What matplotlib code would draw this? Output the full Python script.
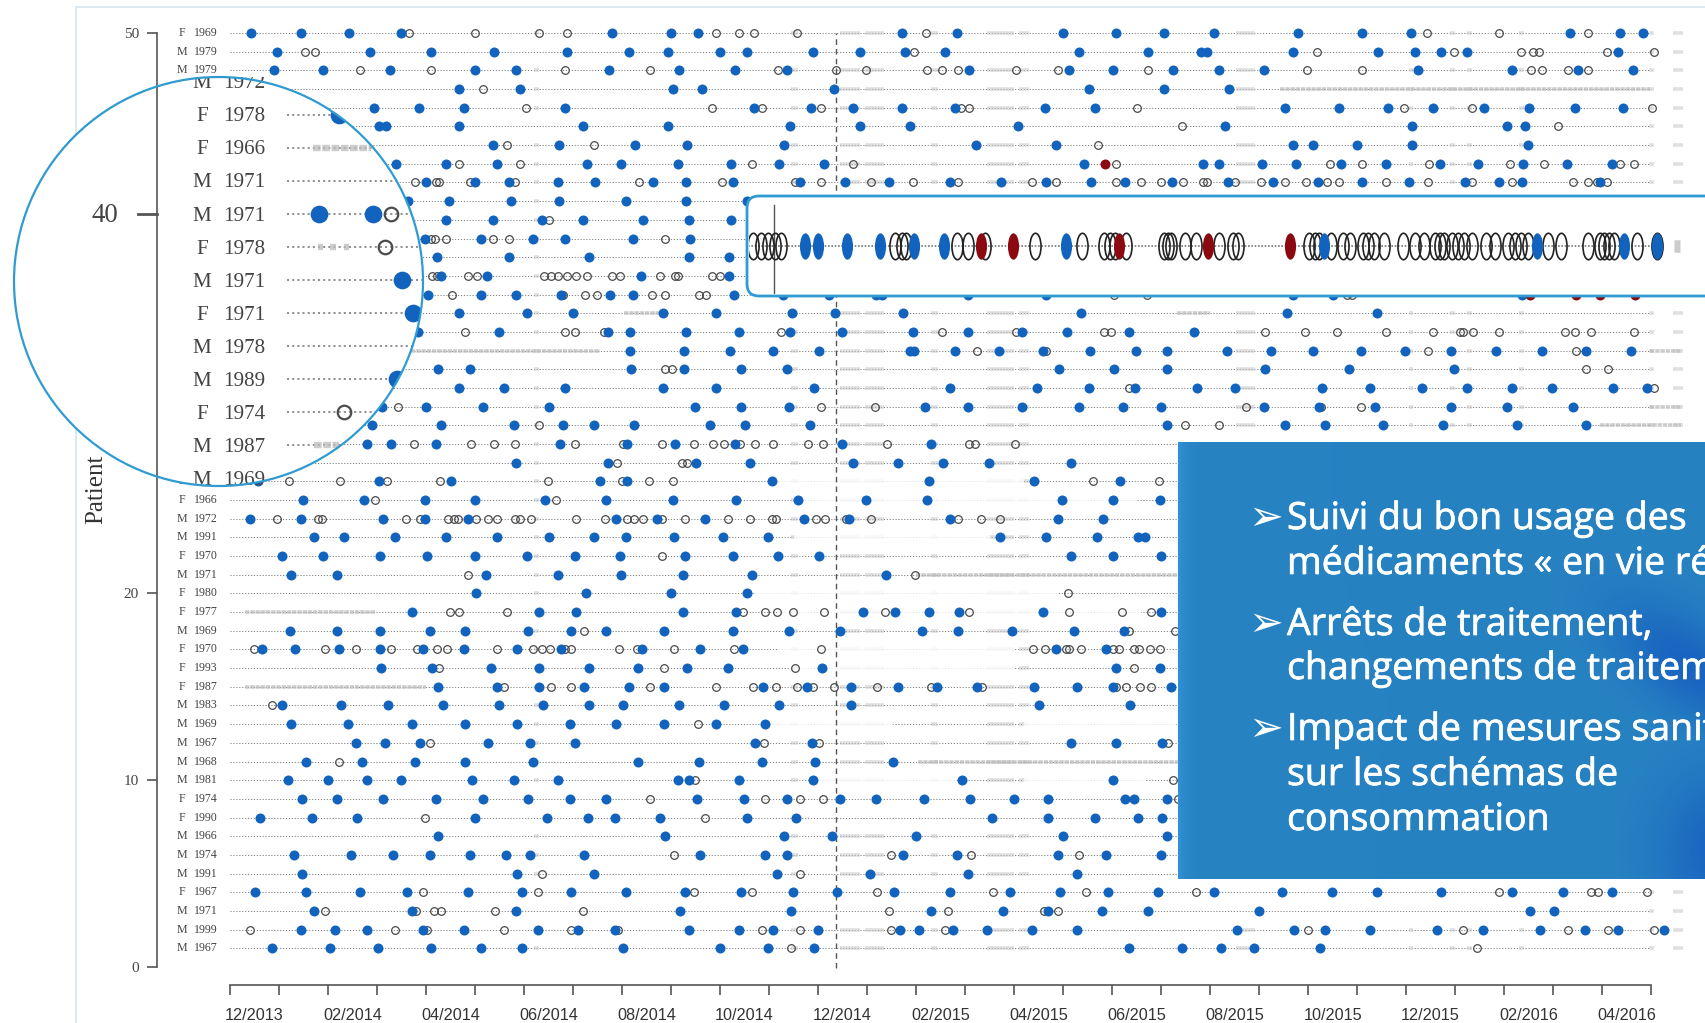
import numpy as np
import matplotlib
matplotlib.use("Agg")
import matplotlib.pyplot as plt
import matplotlib.patheffects as pe
from matplotlib.markers import MarkerStyle
from matplotlib.patches import Circle, FancyBboxPatch, Rectangle
from matplotlib.transforms import Affine2D

# x values are months since the start of 12/2013, y is the patient number
blue_50 = [0.43, 1.45, 2.43, 3.49, 7.80, 9.00, 9.56, 13.71, 14.83, 16.99, 18.08, 19.06, 20.08, 21.80, 23.10, 24.10, 27.35, 28.37, 28.83]
open_50 = [3.65, 5.0, 6.31, 6.87, 9.92, 10.39, 10.69, 11.57, 14.20, 24.43, 25.90, 27.71]
blue_49 = [0.96, 2.86, 4.10, 5.39, 6.87, 8.14, 8.94, 10.0, 10.55, 11.90, 12.86, 13.78, 14.59, 17.32, 18.73, 19.82, 19.94, 21.69, 23.43, 24.18, 24.71, 25.24, 28.33]
open_49 = [1.53, 1.73, 13.96, 22.18, 24.98, 26.35, 26.59, 26.71, 28.10, 29.05]
blue_48 = [0.90, 1.90, 3.27, 5.0, 5.84, 7.73, 9.16, 10.30, 11.37, 15.09, 17.12, 18.01, 19.24, 20.18, 21.10, 24.24, 26.16, 27.51, 28.63]
open_48 = [2.65, 4.10, 6.84, 8.57, 11.18, 12.36, 12.98, 14.22, 14.53, 14.86, 16.04, 16.90, 18.73, 21.98, 23.10, 26.55, 26.78, 27.31, 27.71]
blue_47 = [4.67, 5.92, 9.04, 9.63, 12.33, 17.53, 19.06, 20.39]
open_47 = [5.16]
blue_46 = [2.93, 3.85, 4.77, 6.84, 10.69, 11.86, 12.72, 13.71, 14.80, 16.63, 17.65, 21.53, 22.63, 23.63, 24.55, 25.59, 26.51, 27.45, 28.43]
open_46 = [6.04, 9.84, 10.86, 12.06, 14.92, 15.08, 18.51, 23.96, 25.35, 29.02]
blue_45 = [3.04, 3.18, 4.67, 7.20, 8.94, 11.43, 12.86, 13.88, 16.08, 20.31, 24.12, 26.06, 26.43]
open_45 = [19.43, 27.10]
blue_44 = [5.37, 6.71, 8.27, 9.33, 11.31, 15.22, 16.86, 21.69, 22.11, 23.0, 24.12, 26.49]
open_44 = [5.66, 7.43, 17.71]
blue_43 = [0.6, 3.39, 4.41, 5.45, 7.29, 7.98, 9.14, 10.22, 11.20, 12.12, 17.42, 19.85, 20.18, 21.06, 21.76, 22.67, 23.59, 24.69, 25.47, 26.39, 27.29, 28.20]
open_43 = [4.67, 5.92, 10.65, 12.72, 18.08, 22.45, 23.10, 24.47, 26.12, 26.82, 28.37, 28.65]
blue_42 = [4.0, 5.0, 5.69, 6.69, 7.45, 8.63, 9.31, 10.26, 11.63, 12.55, 13.45, 14.69, 15.73, 16.65, 17.58, 18.27, 19.22, 20.37, 21.29, 22.20, 23.10, 24.06, 25.20, 25.90, 26.37, 27.96]
open_42 = [3.78, 4.20, 4.27, 4.90, 5.82, 8.35, 10.03, 11.53, 12.06, 13.08, 13.94, 14.86, 16.37, 16.86, 18.08, 18.59, 19.0, 19.45, 19.85, 19.94, 20.51, 21.04, 21.53, 21.96, 22.39, 22.63, 23.59, 24.45, 25.35, 26.16, 27.41, 27.71, 27.90, 28.10]
blue_41 = [3.63, 4.47, 5.73, 6.71, 8.08, 9.31, 10.55]
open_41 = []
blue_40 = [0.37, 0.99, 4.41, 5.37, 6.37, 7.20, 8.43, 9.37, 10.22]
open_40 = [1.2, 6.51]
blue_39 = [3.98, 5.12, 6.18, 6.84, 8.22, 9.39]
open_39 = [1.13, 4.10, 4.18, 4.41, 5.37, 5.69, 8.88]
blue_38 = [1.33, 4.22, 5.69, 7.33, 9.37, 10.18]
open_38 = []
blue_37 = [1.45, 4.31, 5.24, 8.39, 10.18]
open_37 = [4.12, 4.22, 4.86, 5.04, 6.41, 6.55, 6.69, 6.88, 7.06, 7.29, 7.80, 7.96, 8.78, 9.08, 9.14, 9.84, 10.0]
blue_36 = [4.04, 5.12, 5.84, 6.76, 7.76, 8.22, 10.29, 11.29, 12.22, 13.18, 13.31, 15.06, 16.65, 21.69, 22.51, 26.37]
open_36 = [4.53, 6.80, 7.24, 7.49, 8.61, 8.88, 9.57, 9.71, 18.04, 18.71, 22.8, 22.9]
red_36 = [26.53, 27.47, 27.96, 28.67]
blue_35 = [1.27, 4.67, 6.06, 7.0, 8.84, 9.92, 11.47, 12.35, 13.73, 17.37, 21.57, 23.41]
open_35 = []
blue_34 = [3.84, 5.49, 7.71, 8.16, 9.31, 10.39, 11.43, 12.49, 13.94, 15.06, 16.16, 17.08, 18.35, 19.67]
open_34 = [0.66, 4.80, 6.84, 7.04, 7.63, 11.24, 14.53, 16.04, 17.84, 17.98, 21.12, 21.94, 22.59, 23.59, 24.55, 25.10, 25.16, 25.37, 25.90, 27.24, 27.45, 27.78, 28.65]
blue_33 = [8.16, 9.27, 10.20, 11.08, 12.02, 13.88, 13.96, 14.80, 15.70, 16.59, 17.55, 18.49, 19.12, 20.35, 21.24, 22.11, 23.08, 23.98, 24.92, 25.84, 26.78, 27.67, 28.59]
open_33 = [15.24, 16.65, 24.45, 27.47]
blue_32 = [4.24, 4.90, 8.18, 9.27, 10.43, 11.37, 16.92, 18.04, 19.12, 21.12, 22.84, 24.98]
open_32 = [8.88, 9.02, 27.67, 28.12]
blue_31 = [4.67, 5.59, 6.84, 8.84, 9.92, 11.92, 14.69, 16.47, 17.53, 18.47, 19.73, 20.51, 22.29, 23.27, 24.33, 25.24, 26.16, 26.98, 28.22, 28.92]
open_31 = [18.35, 29.06]
blue_30 = [3.10, 4.0, 5.16, 6.51, 9.49, 10.43, 11.41, 14.19, 15.06, 16.16, 17.32, 18.23, 19.0, 21.10, 22.22, 23.37, 24.92, 26.06, 27.41]
open_30 = [3.43, 12.06, 13.17, 20.73, 22.27, 23.08]
blue_29 = [2.90, 4.31, 5.80, 6.80, 7.43, 8.24, 9.80, 10.51, 11.84, 19.12, 21.53, 22.35, 23.53, 24.76, 26.27, 27.67]
open_29 = [6.31, 19.49, 20.18]
blue_28 = [2.80, 3.29, 4.20, 6.73, 8.10, 9.08, 10.31, 12.49, 14.31]
open_28 = [3.76, 4.92, 5.39, 5.82, 7.04, 8.02, 8.82, 9.47, 9.86, 10.08, 10.41, 10.71, 11.08, 11.80, 12.10, 13.41, 15.08, 15.20, 16.02]
blue_27 = [5.84, 7.71, 9.51, 10.61, 12.71, 13.64, 14.55, 15.49, 17.16]
open_27 = [7.89, 9.22, 9.33]
blue_26 = [0.57, 3.04, 4.51, 7.55, 8.10, 11.06, 14.27, 16.40, 18.16]
open_26 = [1.20, 2.24, 3.20, 4.29, 6.49, 8.0, 8.55, 9.04, 17.61, 18.96]
blue_25 = [1.49, 2.73, 3.98, 5.0, 6.43, 7.68, 9.04, 10.32, 11.59, 12.98, 14.22, 16.98, 18.02, 18.97]
open_25 = [2.96, 6.65]
blue_24 = [0.41, 1.45, 3.12, 3.98, 4.86, 7.88, 8.71, 9.69, 11.71, 12.63, 14.69, 16.90, 17.82]
open_24 = [0.96, 1.80, 1.87, 3.59, 3.88, 4.45, 4.57, 4.66, 5.02, 5.26, 5.45, 5.82, 5.92, 6.14, 7.06, 7.65, 8.11, 8.24, 8.43, 8.82, 9.29, 10.16, 10.61, 11.06, 11.14, 11.96, 12.14, 12.57, 13.08, 14.86, 15.33, 15.71]
blue_23 = [1.71, 2.33, 3.36, 4.41, 5.45, 6.51, 7.43, 8.08, 9.07, 10.06, 10.98, 15.71, 16.65, 17.69, 18.53, 18.67]
open_23 = []
blue_22 = [1.06, 1.90, 3.06, 4.02, 5.0, 6.06, 7.04, 7.96, 9.28, 10.27, 11.18, 12.02, 17.16, 18.02, 19.0]
open_22 = [8.82]
blue_21 = [1.24, 2.18, 5.22, 6.69, 7.98, 9.24, 10.65, 13.38]
open_21 = [4.86, 13.97]
blue_20 = [5.02, 7.26, 9.0, 10.55]
open_20 = [17.10]
blue_19 = [3.71, 6.31, 7.06, 9.24, 10.32, 12.91, 13.57, 14.27, 14.87, 16.59, 19.0]
open_19 = [4.49, 4.67, 5.65, 10.46, 10.91, 11.16, 11.48, 12.12, 13.37, 15.08, 17.12, 18.20, 18.80]
blue_18 = [1.22, 2.18, 3.06, 4.08, 4.80, 6.08, 6.96, 7.68, 8.85, 10.26, 11.40, 12.45, 14.13, 14.85, 15.96, 17.22, 18.24]
open_18 = [7.22, 18.35, 19.29]
blue_17 = [0.66, 1.33, 2.22, 3.06, 3.94, 4.78, 5.86, 6.76, 8.41, 9.59, 10.46, 16.86, 17.88]
open_17 = [0.49, 1.94, 2.57, 3.29, 3.82, 4.22, 4.43, 5.45, 6.18, 6.37, 6.53, 6.84, 6.96, 7.93, 8.31, 9.07, 10.29, 12.06, 16.39, 16.63, 17.06, 17.12, 17.36, 18.02, 18.14, 18.45, 18.54, 18.78, 18.98]
blue_16 = [3.09, 4.12, 5.33, 6.31, 7.33, 8.32, 9.32, 10.16, 12.08, 18.08, 18.97]
open_16 = [4.27, 8.85, 11.53, 18.44]
blue_15 = [4.24, 5.45, 6.31, 7.22, 8.15, 8.85, 10.87, 11.77, 12.68, 13.64, 14.43, 15.24, 16.40, 17.29, 18.01, 19.20]
open_15 = [5.59, 6.55, 6.96, 8.57, 9.92, 10.68, 11.14, 11.57, 11.90, 12.32, 13.21, 14.31, 15.35, 18.08, 18.28, 18.57, 18.80]
blue_14 = [1.06, 2.27, 3.22, 4.35, 5.49, 6.39, 7.33, 8.02, 9.16, 10.09, 11.20, 12.68, 16.51, 18.37]
open_14 = [0.86]
blue_13 = [1.24, 2.41, 3.71, 4.80, 5.86, 6.94, 7.88, 8.85, 9.92, 10.91]
open_13 = [9.56]
blue_12 = [2.57, 3.16, 3.88, 5.26, 6.12, 7.04, 10.71, 11.87, 17.16, 18.09, 19.02]
open_12 = [4.08, 10.89, 12.02, 19.14]
blue_11 = [1.55, 2.69, 3.78, 4.80, 6.18, 8.32, 9.57, 10.86, 11.93, 13.52]
open_11 = [2.22]
blue_10 = [1.18, 2.0, 2.80, 3.49, 4.94, 5.80, 6.69, 9.14, 9.37, 10.39, 11.89, 14.93, 18.02]
open_10 = [9.48, 19.25]
blue_9 = [1.47, 2.18, 3.12, 4.20, 5.16, 6.08, 6.94, 7.68, 9.53, 10.49, 11.37, 12.45, 13.18, 14.16, 15.11, 15.99, 16.70, 18.27, 18.44, 19.13]
open_9 = [8.57, 10.91, 11.63, 12.10, 19.35]
blue_8 = [0.62, 1.67, 2.60, 5.0, 6.47, 7.30, 7.86, 8.78, 10.55, 11.54, 15.54, 16.70, 17.65, 18.53, 19.02]
open_8 = [3.98, 9.69]
blue_7 = [4.24, 8.88, 11.30, 12.29, 13.99, 16.99, 19.13]
open_7 = []
blue_6 = [1.31, 2.47, 3.33, 4.08, 4.90, 5.63, 6.12, 7.22, 9.59, 10.91, 11.37, 13.73, 14.83, 16.89, 17.88, 19.0]
open_6 = [9.07, 13.48, 15.12, 17.32]
blue_5 = [1.47, 5.86, 7.43, 11.16, 13.05, 15.06, 17.29]
open_5 = [6.37, 11.63]
blue_4 = [0.50, 1.55, 2.65, 3.61, 4.86, 5.96, 6.96, 8.08, 9.28, 10.42, 11.48, 12.39, 13.54, 14.69, 15.91, 16.94, 17.91, 18.93, 20.08, 21.46, 22.48, 23.40, 24.71, 26.16, 27.21, 28.20]
open_4 = [3.94, 6.29, 9.47, 10.65, 13.21, 15.58, 17.46, 19.71, 25.90, 27.78, 27.91, 28.92]
blue_3 = [1.71, 3.71, 5.83, 9.18, 11.44, 14.30, 15.77, 16.69, 17.79, 18.74, 21.0, 26.52, 27.02]
open_3 = [1.94, 3.80, 4.16, 4.31, 5.40, 7.20, 13.45, 14.65, 16.61, 16.90]
blue_2 = [1.45, 2.14, 2.80, 3.94, 4.78, 6.29, 7.10, 7.86, 9.37, 10.39, 11.08, 12.0, 13.67, 14.07, 14.76, 15.45, 16.37, 17.29, 20.54, 21.71, 22.35, 23.27, 24.64, 25.57, 26.73, 27.65, 28.33, 29.27]
open_2 = [0.41, 3.36, 4.02, 5.59, 6.96, 7.92, 10.86, 11.63, 13.48, 14.59, 21.99, 25.16, 27.31, 28.12, 29.05]
blue_1 = [0.86, 2.04, 3.02, 4.10, 5.12, 5.95, 8.02, 9.99, 10.97, 11.92, 18.35, 19.42, 20.22, 20.90, 22.24]
open_1 = [11.44, 25.44]

# one row of the close-up strip
strip_open = [11.96, 12.10, 12.24, 12.36, 12.48, 14.65, 14.77, 14.86, 15.82, 16.03, 16.36, 17.30, 18.20, 18.61, 18.72, 18.82, 19.02, 19.75, 19.83, 19.89, 20.15, 20.36, 20.79, 21.06, 21.15, 22.50, 22.61, 22.70, 22.91, 23.14, 23.28, 23.52, 23.63, 23.73, 23.93, 24.28, 24.51, 24.69, 24.90, 24.98, 25.06, 25.21, 25.33, 25.45, 25.60, 25.86, 26.03, 26.27, 26.42, 26.53, 26.65, 27.03, 27.28, 27.79, 28.02, 28.10, 28.20, 28.29, 28.72, 29.10]
strip_blue = [12.93, 13.18, 13.73, 14.36, 15.0, 15.58, 17.90, 22.79, 26.83, 28.47, 29.10]
strip_red = [16.27, 16.89, 18.90, 20.59, 22.15]

row_numbers = list(range(50, 0, -1))
blue_rows = [blue_50, blue_49, blue_48, blue_47, blue_46, blue_45, blue_44, blue_43, blue_42, blue_41,
             blue_40, blue_39, blue_38, blue_37, blue_36, blue_35, blue_34, blue_33, blue_32, blue_31,
             blue_30, blue_29, blue_28, blue_27, blue_26, blue_25, blue_24, blue_23, blue_22, blue_21,
             blue_20, blue_19, blue_18, blue_17, blue_16, blue_15, blue_14, blue_13, blue_12, blue_11,
             blue_10, blue_9, blue_8, blue_7, blue_6, blue_5, blue_4, blue_3, blue_2, blue_1]
open_rows = [open_50, open_49, open_48, open_47, open_46, open_45, open_44, open_43, open_42, open_41,
             open_40, open_39, open_38, open_37, open_36, open_35, open_34, open_33, open_32, open_31,
             open_30, open_29, open_28, open_27, open_26, open_25, open_24, open_23, open_22, open_21,
             open_20, open_19, open_18, open_17, open_16, open_15, open_14, open_13, open_12, open_11,
             open_10, open_9, open_8, open_7, open_6, open_5, open_4, open_3, open_2, open_1]

# sex and birth year from row 50 down, '' where the lens hides them
sexes = ['F', 'M', 'M', '', '', '', 'M', 'F', 'F', 'M', 'M', 'F', 'M', 'F', 'M', 'M', 'F', 'M', 'M', '',
         '', '', '', '', 'F', 'F', 'M', 'M', 'F', 'M', 'F', 'F', 'M', 'F', 'F', 'F', 'M', 'M', 'M', 'M',
         'M', 'F', 'F', 'M', 'M', 'M', 'F', 'M', 'M', 'M']
years = ['1969', '1979', '1979', '', '', '', '1972', '1978', '1966', '1971', '1971', '1978', '1971', '1971', '1978', '1989', '1974', '1987', '1969', '',
         '', '', '', '', '', '1966', '1972', '1991', '1970', '1971', '1980', '1977', '1969', '1970', '1993', '1987', '1983', '1969', '1967', '1968',
         '1981', '1974', '1990', '1966', '1974', '1991', '1967', '1971', '1999', '1967']
lens_label_rows = list(range(44, 31, -1))

gray_common = [(6.2, 6.3), (11.45, 11.6), (12.45, 12.85), (12.95, 13.35), (14.3, 14.45), (15.45, 16.0), (16.1, 16.3),
               (20.53, 20.92), (24.05, 24.15), (24.9, 25.0), (25.25, 25.35), (26.3, 26.4)]
gray_end = [(28.95, 29.05), (29.45, 29.65)]
plain_rows = [49, 45, 9, 8, 4, 3]
gray_rows = [47, 42, 39, 39, 39, 35, 35, 33, 33, 33, 30, 29, 21, 19, 15, 11]
gray_start = [21.43, 0.3, 0.36, 0.5, 0.66, 8.04, 19.33, 0.31, 3.7, 28.98, 28.98, 27.96, 14.0, 0.31, 0.31, 14.03]
gray_stop = [28.98, 0.97, 0.42, 0.56, 0.72, 8.78, 20.0, 0.6, 7.55, 29.6, 29.6, 29.6, 19.35, 2.96, 3.99, 19.35]
ghost_rows = [26, 25, 23, 20, 19, 17, 16, 13, 13, 10, 10]
ghost_start = [11.2, 11.6, 11.5, 10.7, 11.2, 11.2, 11.4, 11.0, 16.2, 11.9, 16.2]
ghost_stop = [16.2, 18.5, 15.5, 16.9, 18.6, 16.0, 16.0, 13.5, 19.3, 14.8, 18.7]

month_ticks = list(range(0, 30))
month_labels = ['12/2013', '02/2014', '04/2014', '06/2014', '08/2014', '10/2014', '12/2014', '02/2015',
                '04/2015', '06/2015', '08/2015', '10/2015', '12/2015', '02/2016', '04/2016']
patient_ticks = [0, 10, 20, 30, 40, 50]
cut_month = 12.36

BLUE = '#1263bd'
RED = '#8b0a12'
RING = '#4a4a4a'
LENS = '#2f9bd1'
W, H = 1706, 1023
serif = 'Liberation Serif'


def draw_rows(ax, k, label_rows):
    # k is the magnification, the lens uses the same data as the main plot
    for i, n in enumerate(row_numbers):
        ax.plot([0, 29.0], [n, n], color='#808080', lw=0.7 * k, ls=(0, (1.2, 1.8)), zorder=1)
        if n not in plain_rows:
            for a, b in gray_common:
                ax.plot([a, b], [n, n], color='#c6c6c6', lw=2.6 * k, alpha=0.55, solid_capstyle='butt', zorder=2)
        for a, b in gray_end:
            ax.plot([a, b], [n, n], color='#d4d4d4', lw=2.6 * k, alpha=0.7, solid_capstyle='butt', zorder=2)
        if open_rows[i]:
            ax.plot(open_rows[i], [n] * len(open_rows[i]), 'o', ms=5.5 * k, mfc='none', mec=RING, mew=0.9 * k, zorder=4)
        if blue_rows[i]:
            ax.plot(blue_rows[i], [n] * len(blue_rows[i]), 'o', ms=7.2 * k, mfc=BLUE, mew=0, zorder=5)
        if n in label_rows:
            yy = n - 0.08 * (k - 1)
            if sexes[i]:
                ax.text(-0.98, yy, sexes[i], family=serif, fontsize=8.6 * k, color='#444444', ha='center', va='center')
            if years[i]:
                ax.text(-0.49, yy, years[i], family=serif, fontsize=8.6 * k, color='#444444', ha='center', va='center')
    for n, a, b in zip(gray_rows, gray_start, gray_stop):
        ax.plot([a, b], [n, n], color='#bcbcbc', lw=2.6 * k, alpha=0.75, ls=(0, (1.2, 0.25)), zorder=2)
    ax.plot(red_36, [36] * len(red_36), 'o', ms=7.2 * k, mfc=RED, mew=0, zorder=5)
    ax.plot(17.86, 43, 'o', ms=7.2 * k, mfc=RED, mew=0, zorder=6)


fig = plt.figure(figsize=(W / 100, H / 100), dpi=100, facecolor='white')

# main plot
ax = fig.add_axes([157 / W, (H - 985) / H, (W - 157) / W, 985 / H], zorder=1)
ax.patch.set_alpha(0)
ax.set_xlim(-1.49, 30.12)
ax.set_ylim(-0.964, 51.77)
draw_rows(ax, 1, [n for n in row_numbers if n not in lens_label_rows])
for n, a, b in zip(ghost_rows, ghost_start, ghost_stop):
    ax.add_patch(Rectangle((a, n - 0.2), b - a, 0.4, fc='white', ec='none', alpha=0.8, zorder=3))
ax.plot([cut_month, cut_month], [-0.05, 50], color='#555555', lw=1.0, ls=(0, (4, 3)), zorder=3)
ax.text(-2.73, 25.6, 'Patient', family=serif, fontsize=18, color='#333333', rotation=90, ha='center', va='center')

for s in ['top', 'right']:
    ax.spines[s].set_visible(False)
ax.spines['left'].set_bounds(0, 50)
ax.spines['bottom'].set_bounds(0, 29)
for s in ['left', 'bottom']:
    ax.spines[s].set_color('#555555')
    ax.spines[s].set_linewidth(1.2)
ax.set_yticks(patient_ticks)
ax.set_yticklabels([str(p) for p in patient_ticks], family=serif, fontsize=11, color='#444444')
ax.tick_params(axis='y', length=7, width=1.2, color='#555555', pad=6)
ax.set_xticks(month_ticks)
ax.set_xticklabels([])
ax.tick_params(axis='x', which='major', length=7, width=1.2, color='#555555')
ax.set_xticks([m + 0.5 for m in month_ticks[::2]], minor=True)
ax.set_xticklabels(month_labels, minor=True, family='Liberation Sans', fontsize=11.7, color='#333333')
ax.tick_params(axis='x', which='minor', length=0, pad=16.5)

# everything that sits on top of the plot, in pixels
over = fig.add_axes([0, 0, 1, 1], zorder=2)
over.axis('off')
over.plot([76, 76, W], [H, 7, 7], color='#dbe8f1', lw=1.5)
over.add_patch(FancyBboxPatch((747, 196), 1200, 100, boxstyle='round,pad=0,rounding_size=12',
                              fc='white', ec=LENS, lw=2.0, mutation_aspect=1))

# right hand text box, background with its darker smudges
bx, by = np.meshgrid(np.arange(1178, W), np.arange(442, 879))
mix = 0.95 * np.exp(-(((bx - 1690) * 0.8 + (by - 665) * 0.6) ** 2 / 90 ** 2 + ((bx - 1690) * 0.6 - (by - 665) * 0.8) ** 2 / 42 ** 2))
mix = np.maximum(mix, 0.95 * np.exp(-(((bx - 1725) / 65) ** 2 + ((by - 850) / 75) ** 2)))
base = np.array([0x27, 0x82, 0xc2]) / 255
dark = np.array([0x18, 0x62, 0xc0]) / 255
img = base + (dark - base) * mix[..., None]
strip = np.exp(-(bx - 1178) / 7.0)[..., None]
img = img + (np.array([0x30, 0x92, 0xd8]) / 255 - img) * strip
over.imshow(img, extent=(1178, W, 879, 442), aspect='auto', zorder=3)
over.set_xlim(0, W)
over.set_ylim(H, 0)

lines = ['Suivi du bon usage des', 'médicaments « en vie réelle »', 'Arrêts de traitement,', 'changements de traitement',
         'Impact de mesures sanitaires', 'sur les schémas de', 'consommation']
baselines = [529, 574, 635, 679, 740, 785, 830]
thicker = [pe.withStroke(linewidth=0.5, foreground='white')]
for txt, yy in zip(lines, baselines):
    over.text(1287, yy, txt, family='Open Sans', fontsize=27, color='white', ha='left', va='baseline', zorder=4, clip_on=True,
              path_effects=thicker)
for yy in [529, 635, 740]:
    over.text(1248, yy + 1, '\u27a2', family='DejaVu Sans', fontsize=30, color='white', ha='left', va='baseline', zorder=4)

# close-up strip
sx = fig.add_axes([749 / W, (H - 294) / H, (W - 749) / W, 96 / H], zorder=3)
sx.axis('off')
sx.set_xlim(12.35 + (749 - 774) / 52.7, 12.35 + (W - 774) / 52.7)
sx.set_ylim(-1, 1)
ell = MarkerStyle('o', transform=Affine2D().scale(0.42, 1))
sx.plot([11.85, 29.2], [0, 0], color='#777777', lw=1.2, ls=(0, (1, 1)), zorder=1)
sx.plot([12.35, 12.35], [-1, 0.85], color='#555555', lw=1.0, zorder=2)
sx.plot(strip_open, [0] * len(strip_open), ls='none', marker=ell, ms=19, mfc='none', mec='#222222', mew=1.2, zorder=3)
sx.plot(strip_blue, [0] * len(strip_blue), ls='none', marker=ell, ms=19, mfc=BLUE, mew=0, zorder=4)
sx.plot(strip_red, [0] * len(strip_red), ls='none', marker=ell, ms=19, mfc=RED, mew=0, zorder=4)
sx.plot([29.42, 29.55], [0, 0], color='#cccccc', lw=9, solid_capstyle='butt', zorder=2)

# round lens, same rows drawn 1.77 times bigger
k = 1.77
left, right, top, bottom = 14, 423, 77, 486
px_month = 49 * k
px_row = 18.68 * k
lens = fig.add_axes([left / W, (H - bottom) / H, (right - left) / W, (bottom - top) / H], zorder=4)
lens.axis('off')
lens.set_xlim((left - 287) / px_month, (right - 287) / px_month)
lens.set_ylim(40 - (bottom - 214) / px_row, 40 - (top - 214) / px_row)
disc = Circle((0.5, 0.5), 0.5, transform=lens.transAxes, fc='white', ec='none', zorder=0)
lens.add_patch(disc)
draw_rows(lens, k, lens_label_rows)
lens.plot([-1.5, -1.5], [20, 60], color='#555555', lw=1.2, zorder=3)
lens.plot([-1.72, -1.5], [40, 40], color='#555555', lw=2.0, zorder=3)
lens.text(-1.94, 39.94, '40', family=serif, fontsize=11 * k, color='#444444', ha='right', va='center')
for art in lens.get_children():
    if art is not disc and art not in lens.spines.values():
        art.set_clip_on(True)
        art.set_clip_path(disc)
lens.add_patch(Circle((0.5, 0.5), 0.5, transform=lens.transAxes, fc='none', ec=LENS, lw=1.6, zorder=9, clip_on=False))

fig.savefig('out.png', dpi=100)
